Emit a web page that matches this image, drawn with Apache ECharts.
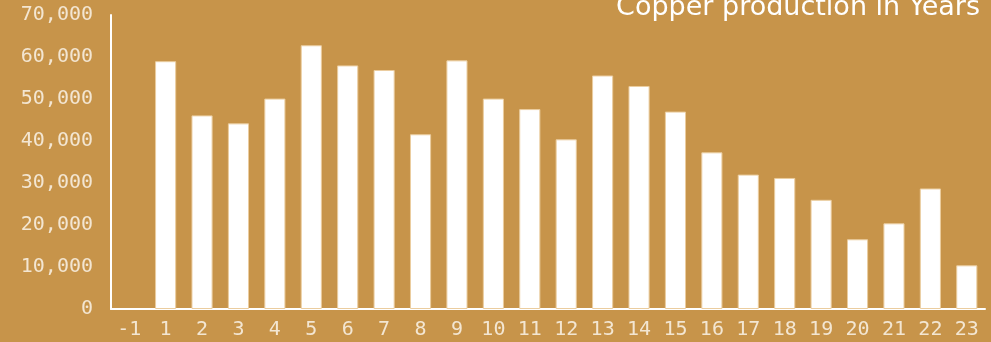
<!DOCTYPE html>
<html>
<head>
<meta charset="utf-8">
<script src="https://cdn.jsdelivr.net/npm/echarts@6/dist/echarts.min.js"></script>
<style>
html,body{margin:0;padding:0;background:#c7944a;}
#chart{width:991px;height:342px;}
</style>
</head>
<body>
<div id="chart"></div>
<script>
const titleText = 'Copper production in Years';
const categories = ['-1','1','2','3','4','5','6','7','8','9','10','11','12','13','14','15','16','17','18','19','20','21','22','23'];
const production = ['-',59000,46100,44200,50100,62800,58000,56900,41600,59200,50100,47600,40400,55600,53100,47000,37300,32000,31200,26000,16600,20400,28700,10400];
const yTicks = [0,10000,20000,30000,40000,50000,60000,70000];

const chart = echarts.init(document.getElementById('chart'));
const labelFont = {color:'#f3e6d2', fontFamily:'DejaVu Sans Mono', fontSize:20};
chart.setOption({
  backgroundColor:'#c7944a',
  animation:false,
  title:{
    text:titleText,
    right:6,
    top:-11,
    textStyle:{color:'#ffffff', fontFamily:'DejaVu Sans', fontSize:27, fontWeight:'normal'}
  },
  grid:{left:111, right:6, top:15, bottom:33, containLabel:false},
  xAxis:{
    type:'category',
    data:categories,
    axisLine:{lineStyle:{color:'#ffffff', width:2}},
    axisTick:{show:false},
    axisLabel:Object.assign({margin:11, interval:0}, labelFont)
  },
  yAxis:{
    type:'value',
    min:yTicks[0],
    max:yTicks[yTicks.length-1],
    interval:yTicks[1]-yTicks[0],
    axisLine:{show:true, lineStyle:{color:'#ffffff', width:2}},
    axisTick:{show:false},
    splitLine:{show:false},
    axisLabel:Object.assign({margin:18, formatter:v=>v.toLocaleString('en-US')}, labelFont)
  },
  series:[{
    type:'bar',
    data:production,
    barCategoryGap:'42%',
    itemStyle:{color:'#ffffff', borderColor:'#ebcd9f', borderWidth:1}
  }]
});
</script>
</body>
</html>
